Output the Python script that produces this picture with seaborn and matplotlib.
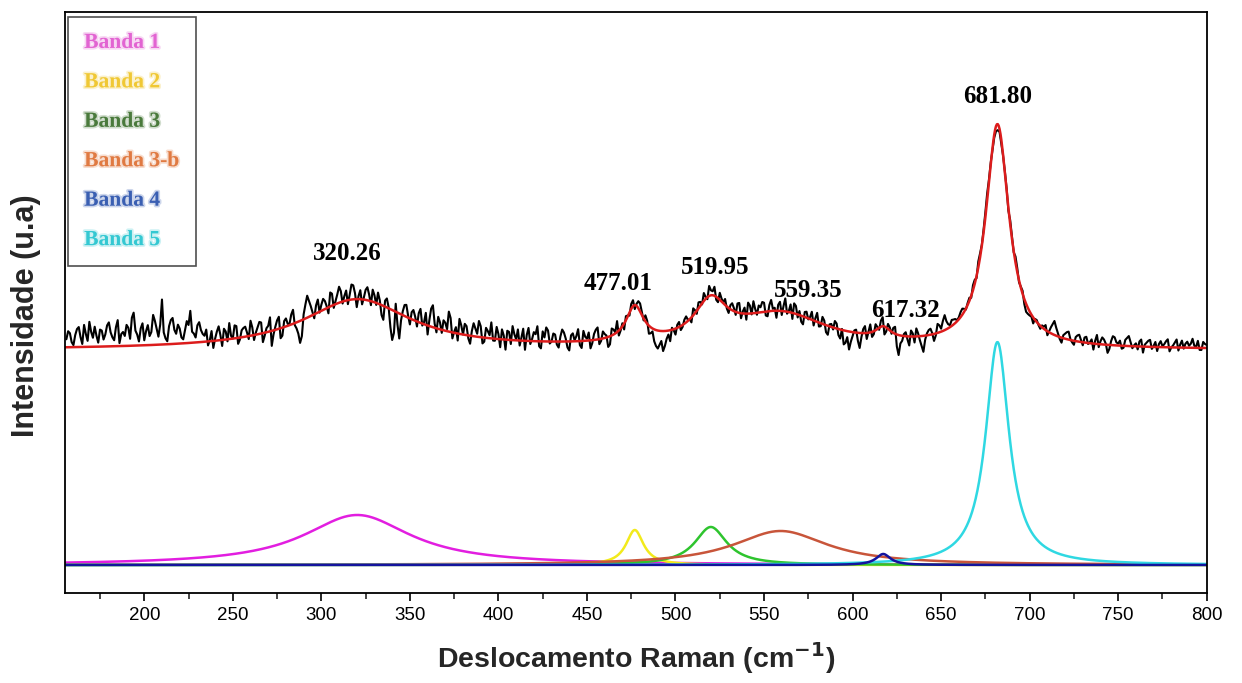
import numpy as np
import pandas as pd
import matplotlib
matplotlib.use("Agg")
import matplotlib.pyplot as plt
import matplotlib.patheffects as pe
from matplotlib.lines import Line2D
from matplotlib.ticker import MultipleLocator
import seaborn as sns

# Fitted Lorentzian bands (centre in cm-1, height and FWHM in a.u.)
band_names = ["Banda 1", "Banda 2", "Banda 3", "Banda 3-b", "Banda 4", "Banda 5"]
band_centers = [320.26, 477.01, 519.95, 559.35, 617.32, 681.80]
band_heights = [50, 35, 38, 34, 11, 223]
band_fwhm = [74, 12, 22, 65, 10, 16]

line_colors = ["#e21ee0", "#f2ea1c", "#2ec42e", "#c8553a", "#14149e", "#2fd8e2"]
text_colors = ["#e264d2", "#f0c834", "#4a7a3c", "#e07a42", "#3a5fb2", "#34c8d2"]
draw_order = ["Banda 1", "Banda 2", "Banda 3", "Banda 3-b", "Banda 5", "Banda 4"]

# vertical offset of the measured spectrum above the band components
spectrum_offset = 215

# residuals of the measured spectrum around the fit, even wavenumbers 156..800
resid_a = [8, 14, 2, 18, 10, 22, 6, 15, 20, 4, 16, 12, 24, 9, 19, 3, 14, 21, 7, 33,
           11, 17, 5, 20, 13, 24, 8, 45, 6, 18, 26, 10, 15, 4, 22, 32, 9, 17, 12]
resid_b = [6, -4, 10, 2, 14, -6, 8, 16, 0, 12, -2, 9, 4, 15, -5, 7, 11, -3, 6, -15,
           3, 12, -8, 8, 1, 14, -6, -22, 5, 22, 10, -4, 13, 6]
resid_c = [8, -6, 12, 3, 16, -2, 10, 5, 14, -8, 9, 2, 13, -4, 7, 11, -10, 6, 1, -30,
           8, -25, 4, 12, -6]
resid_d = [10, -5, 14, 2, -9, 18, 4, 12, -3, 8, 20, -6, 6, 15, 0, 9, -8, 13, 3, 11,
           -4, 7, 16, -2, 5, 10, -10, 8, 14, 1, -5, 12, 6, -3, 9, 15, -7, 4, 11, 0,
           7, -6, 12, 3, -9, 8, 5, -4, 10, 2, -8, 6, 12, -2, 4, -10, 7, 1, -5, 3]
resid_e = [4, -3, 6, 2, 8, -2, 3, -6, -12, -18, -10, -15, -4, 2, -6, 5, -2, 6, 0, 7,
           -3, 4, 8, -2, 5, 9, -4, 3, 6, -5]
resid_f = [7, -3, 10, 2, -6, 8, 12, -2, 5, 9, -5, 11, 3, 6, -4, 13, 1, -6, 8, 4,
           -8, 6, 2, -5, 9, -3, 4, -9, 3, 7, -6, 1, -12, -18, -4]
resid_g = [3, -15, 4, -6, 8, -3, 2, 6, -8, 5, -2, 7, -20, -5, 4, -9, 3, 8, -4, -16,
           2, 6, -7, 9, 3, 15, 4, 6]
resid_h = [4, 2, 6, -1, 3, 5, -2, 4, 3, 7, 2, -3, -6, -4, 1, -3, 2, 6, -2, 3,
           -8, -4, -6, 2, -3]
resid_i = [2, -4, 6, 14, 3, -5, 5, 8, -2, 4, 7, -3, 6, 1, -6, 9, 3, 5, -8, 4,
           8, 2, -3, 6, 10, -2, 3, 5, -6, 4, 7, 1, -4, 6, 3, 8, 0, 5, -3, 7,
           4, 2, 9, 1, -2, 6, 3]

# residuals at odd wavenumbers 157..799
resid_a_odd = [16, 5, 12, 20, 3, 13, 25, 9, 11, 17, 7, 21, 14, 6, 26, 12, 10, 18, 28, 15,
               4, 22, 14, 9, 30, 16, 20, 12, 3, 24, 14, 19, 6, 13, 18, 11, 5, 20, 8]
resid_b_odd = [12, 1, -7, 9, 5, 11, -2, 3, 13, -6, 7, 10, -3, 8, 2, 12, -9, 4, 14, -4,
               9, -10, 6, 2, 10, -2, -12, -16, 14, 16, 3, 8, -1, 11]
resid_c_odd = [2, 14, -3, 9, 11, 5, -4, 15, 6, 3, -5, 10, 6, 12, -2, 4, -14, 9, -18, -22,
               -12, -6, 11, 2, 7]
resid_d_odd = [4, 9, -2, 12, 6, 22, -4, 7, 10, 2, 14, 1, -7, 9, 11, -3, 5, 8, 16, -6,
               10, 3, -2, 12, -8, 4, 9, -4, 6, 11, 3, -9, 13, 2, 7, -5, 10, 14, -2, 8,
               -3, 5, 9, -6, 6, 1, 12, -7, 4, 8, -3, 10, -5, 7, 2, -8, 5, 11, -2, -6]
resid_e_odd = [1, 5, -4, 7, 3, 6, -8, -3, -16, -14, -20, -8, -11, -1, 3, -4, 4, 1, -5, 3,
               6, -1, 2, 10, 4, -3, 7, 1, -2, 4]
resid_f_odd = [3, 9, -5, 6, 11, -1, 4, 7, 10, -4, 6, 2, -7, 9, 5, -2, 8, 10, -3, -6,
               5, -1, 8, 3, -4, 7, -7, 2, -2, 5, -9, -14, -6, -10, 2]
resid_g_odd = [-8, -4, 7, 1, -5, 6, -2, 9, -4, 3, 5, -12, -8, 2, -3, 6, -6, 3, -10, -4,
               5, 1, -2, 7, 10, 8, 2, 5]
resid_h_odd = [1, 5, 3, 2, -2, 4, 6, 1, 5, 3, -2, -5, -3, -1, 2, 4, -1, 4, 1, -5,
               -6, -2, 1, -1, 2]
resid_i_odd = [5, 1, 10, 8, -2, 3, 7, 1, -4, 6, 2, 5, -1, 4, 3, -3, 7, 1, -4, 9,
               3, 5, -2, 8, 4, 1, -3, 7, 2, 6, -2, 5, 3, 1, 6, -4, 2, 8, 3, -1,
               6, 4, 2, 7, -2, 4]

x_ticks = [200, 250, 300, 350, 400, 450, 500, 550, 600, 650, 700, 750, 800]


def lorentzian(x, center, height, fwhm):
    hw = fwhm / 2.0
    return height / (1.0 + ((x - center) / hw) ** 2)


def model(x):
    return sum(lorentzian(x, c, h, w) for c, h, w in
               zip(band_centers, band_heights, band_fwhm))


grid = np.arange(155, 800.01, 0.5)
rows = []
for name, c, h, w in zip(band_names, band_centers, band_heights, band_fwhm):
    rows.append(pd.DataFrame({"x": grid, "y": lorentzian(grid, c, h, w), "band": name}))
components = pd.concat(rows, ignore_index=True)
fit = spectrum_offset + model(grid)

even_x = np.arange(156, 801, 2)
odd_x = np.arange(157, 800, 2)
even_r = resid_a + resid_b + resid_c + resid_d + resid_e + resid_f + resid_g + resid_h + resid_i
odd_r = (resid_a_odd + resid_b_odd + resid_c_odd + resid_d_odd + resid_e_odd +
         resid_f_odd + resid_g_odd + resid_h_odd + resid_i_odd)
spec = pd.DataFrame({"x": np.concatenate([even_x, odd_x]),
                     "r": np.array(even_r + odd_r, dtype=float)}).sort_values("x")
spec["y"] = spectrum_offset + model(spec["x"].values) + spec["r"]

sns.set_style("ticks")
plt.rcParams["font.family"] = ["Liberation Sans", "DejaVu Sans"]

fig, ax = plt.subplots(figsize=(12.42, 6.83), dpi=100)
fig.subplots_adjust(left=0.052, right=0.9716, bottom=0.1318, top=0.9824)

sns.lineplot(data=components, x="x", y="y", hue="band", hue_order=draw_order,
             palette=dict(zip(band_names, line_colors)), estimator=None, sort=False,
             legend=False, linewidth=1.8, ax=ax)
sns.lineplot(data=spec, x="x", y="y", color="black", linewidth=1.5, estimator=None,
             sort=False, ax=ax)
sns.lineplot(x=grid, y=fit, color="#dc1c1c", linewidth=1.8, estimator=None,
             sort=False, ax=ax)

# peak position labels above the fitted spectrum
label_dx = [-5.5, -9.3, 2.5, 15.7, 12.4, 0.0]
label_y = [312, 282, 298, 275, 255, 469]
for c, dx, y in zip(band_centers, label_dx, label_y):
    ax.text(c + dx, y, f"{c:.2f}", ha="center", va="center", fontsize=18,
            fontweight="bold", family="Liberation Serif", color="black")

ax.set_xlim(155, 800)
ax.set_ylim(-28, 553)
ax.set_xticks(x_ticks)
ax.xaxis.set_minor_locator(MultipleLocator(25))
ax.set_yticks([])
ax.tick_params(axis="x", which="major", direction="out", length=6, width=1.2,
               labelsize=13.5, pad=4, colors="black")
ax.tick_params(axis="x", which="minor", direction="out", length=4, width=1.2)
for side in ["left", "right", "top", "bottom"]:
    ax.spines[side].set_visible(True)
    ax.spines[side].set_color("black")
    ax.spines[side].set_linewidth(1.3)

ax.set_xlabel("Deslocamento Raman (cm$^{\\mathbf{-1}}$)", fontsize=20.5,
              fontweight="bold", labelpad=12)
ax.set_ylabel("Intensidade (u.a)", fontsize=22, fontweight="bold")
ax.yaxis.set_label_coords(-0.021, 0.478)

handles = [Line2D([], [], color="none") for _ in band_names]
leg = ax.legend(handles, band_names, loc="upper left", bbox_to_anchor=(0.003, 0.992),
                borderaxespad=0, handlelength=0, handletextpad=0, frameon=True,
                fancybox=False, labelspacing=0.9, borderpad=0.75,
                prop={"family": "Liberation Serif", "weight": "bold", "size": 15.5})
leg.get_frame().set_edgecolor("#222222")
leg.get_frame().set_linewidth(1.2)
for txt, col in zip(leg.get_texts(), text_colors):
    txt.set_color(col)
    txt.set_path_effects([pe.Stroke(linewidth=2.5, foreground=col, alpha=0.25),
                          pe.Normal()])

fig.savefig("out.png", dpi=100)
